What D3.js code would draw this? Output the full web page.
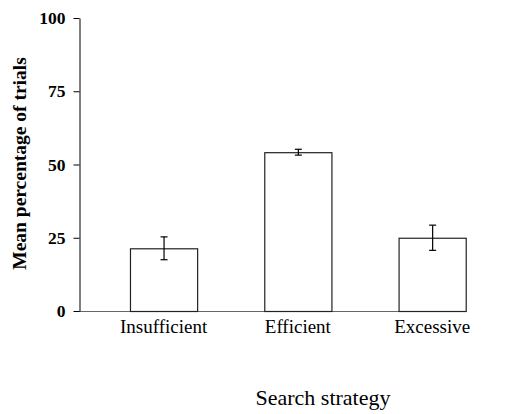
<!DOCTYPE html>
<html><head><meta charset="utf-8">
<script src="https://cdn.jsdelivr.net/npm/d3@7"></script>
<style>body{margin:0;background:#fff}</style>
</head><body>
<svg id="c" width="514" height="414"></svg>
<script>
const categories = ["Insufficient", "Efficient", "Excessive"];
const means = [21.4, 54.2, 25.0];
const errors = [3.9, 1.0, 4.3];
const yTicks = [0, 25, 50, 75, 100];

const svg = d3.select("#c");
const font = "'Liberation Serif','Times New Roman',serif";
const x = d3.scaleBand().domain(categories).range([96.4, 499.3]).paddingInner(0.5).paddingOuter(0.25);
const y = d3.scaleLinear().domain([0, 100]).range([311, 18]);

// baseline
svg.append("line").attr("x1", 79).attr("x2", x(categories[2]) + x.bandwidth())
  .attr("y1", y(0) + 0.5).attr("y2", y(0) + 0.5).attr("stroke", "#666").attr("stroke-width", 1);

// y axis
const ya = svg.append("g").attr("transform", "translate(79.5,0)")
  .call(d3.axisLeft(y).tickValues(yTicks).tickSize(6).tickPadding(8).tickSizeOuter(0));
ya.attr("font-family", null).attr("font-size", null);
ya.select(".domain").attr("stroke", "#000");
ya.selectAll(".tick line").attr("stroke", "#000");
ya.selectAll(".tick text").style("font-family", font).style("font-weight", "bold")
  .style("font-size", "17.5px").attr("fill", "#000");

// bars
svg.selectAll("rect.bar").data(categories).join("rect").attr("class", "bar")
  .attr("x", d => x(d) + 0.5).attr("y", (d, i) => y(means[i]) + 0.5)
  .attr("width", x.bandwidth()).attr("height", (d, i) => y(0) - y(means[i]))
  .attr("fill", "#fff").attr("stroke", "#222").attr("stroke-width", 1.2);

// error bars
const eb = svg.selectAll("g.eb").data(categories).join("g").attr("class", "eb");
eb.append("line").attr("x1", d => x(d) + x.bandwidth() / 2 + 0.5).attr("x2", d => x(d) + x.bandwidth() / 2 + 0.5)
  .attr("y1", (d, i) => y(means[i] + errors[i])).attr("y2", (d, i) => y(means[i] - errors[i]))
  .attr("stroke", "#000").attr("stroke-width", 1.2);
[1, -1].forEach(s => {
  eb.append("line").attr("x1", d => x(d) + x.bandwidth() / 2 - 3).attr("x2", d => x(d) + x.bandwidth() / 2 + 4)
    .attr("y1", (d, i) => y(means[i] + s * errors[i])).attr("y2", (d, i) => y(means[i] + s * errors[i]))
    .attr("stroke", "#000").attr("stroke-width", 1.2);
});

// x labels
svg.selectAll("text.xl").data(categories).join("text").attr("class", "xl")
  .attr("x", d => x(d) + x.bandwidth() / 2).attr("y", 333)
  .attr("text-anchor", "middle").style("font-family", font).style("font-size", "19px").attr("fill", "#000")
  .text(d => d);

// axis titles
svg.append("text").attr("transform", "translate(26,163.5) rotate(-90)").attr("text-anchor", "middle")
  .style("font-family", font).style("font-weight", "bold").style("font-size", "19.5px").attr("fill", "#000")
  .text("Mean percentage of trials");
svg.append("text").attr("x", 323).attr("y", 405).attr("text-anchor", "middle")
  .style("font-family", font).style("font-size", "22px").attr("fill", "#000").text("Search strategy");
</script>
</body></html>
